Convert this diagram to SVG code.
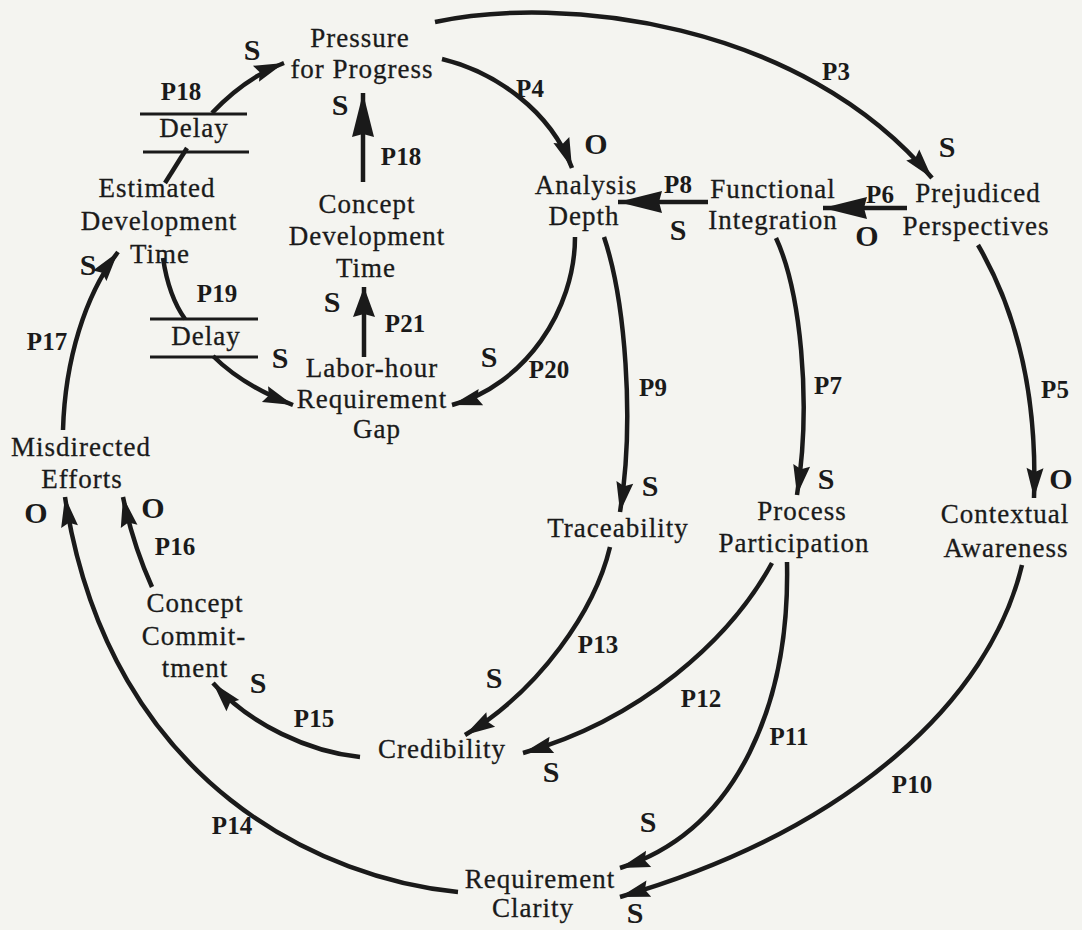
<svg xmlns="http://www.w3.org/2000/svg" width="1082" height="930" viewBox="0 0 1082 930">
<defs>
<style>
.n{font-family:"Liberation Serif","DejaVu Serif",serif;font-size:27px;letter-spacing:1px;fill:#1a1a1a;stroke:#1a1a1a;stroke-width:0.3;text-anchor:middle}
.p{font-family:"Liberation Serif","DejaVu Serif",serif;font-size:25px;font-weight:bold;fill:#1a1a1a;text-anchor:middle}
.s{font-family:"Liberation Serif","DejaVu Serif",serif;font-size:30px;font-weight:bold;fill:#1a1a1a;text-anchor:middle}
.c{fill:none;stroke:#1a1a1a;stroke-width:4.5}
.d{fill:none;stroke:#1a1a1a;stroke-width:3}
.a{marker-end:url(#a)}
.b{marker-end:url(#b)}
.m{marker-end:url(#m)}
</style>
<marker id="a" viewBox="-32 -10 34 20" refX="0" refY="0" markerWidth="34" markerHeight="20" markerUnits="userSpaceOnUse" orient="auto"><path d="M0,0 L-30,-8.5 L-26,0 L-30,8.5 Z" fill="#1a1a1a"/></marker>
<marker id="b" viewBox="-46 -12 48 24" refX="0" refY="0" markerWidth="48" markerHeight="24" markerUnits="userSpaceOnUse" orient="auto"><path d="M0,0 L-44,-11 L-41,0 L-44,11 Z" fill="#1a1a1a"/></marker>
<marker id="m" viewBox="-32 -12 34 24" refX="0" refY="0" markerWidth="34" markerHeight="24" markerUnits="userSpaceOnUse" orient="auto"><path d="M0,0 L-30,-11 L-27,0 L-30,11 Z" fill="#1a1a1a"/></marker>
</defs>
<rect width="1082" height="930" fill="#f4f4f0"/>
<g id="connectors">
<path class="c a" d="M435,22 C560,-5 800,20 932,178"/>
<path class="c a" d="M442,59 C495,72 550,110 572,168"/>
<path class="c b" d="M907,208 L823,208"/>
<path class="c b" d="M708,202 L618,202"/>
<path class="c b" d="M363,182 L363,93"/>
<path class="c m" d="M364,357 L364,287"/>
<path class="c" d="M165,183 L187,148"/>
<path class="c a" d="M212,113 C228,96 250,76 284,63"/>
<path class="d" d="M140,114 H247 M143,152 H249 M150,319 H258 M150,357 H258"/>
<path class="c" d="M163,258 C167,285 175,305 185,319"/>
<path class="c a" d="M213,356 C235,378 262,393 293,405"/>
<path class="c a" d="M575,237 C575,310 525,385 452,405"/>
<path class="c a" d="M604,237 C625,300 635,420 620,512"/>
<path class="c a" d="M776,238 C800,290 812,400 797,495"/>
<path class="c a" d="M978,245 C1010,300 1038,380 1034,498"/>
<path class="c a" d="M610,547 C595,610 540,690 465,735"/>
<path class="c a" d="M772,563 C730,640 640,720 523,753"/>
<path class="c a" d="M787,562 C790,700 740,830 620,868"/>
<path class="c a" d="M1022,565 C990,700 850,830 620,897"/>
<path class="c a" d="M458,892 C330,880 110,790 65,497"/>
<path class="c a" d="M360,757 C310,752 250,725 213,683"/>
<path class="c a" d="M152,587 Q133,545 123,497"/>
<path class="c a" d="M63,430 C65,360 85,295 118,252"/>
</g>
<g id="labels">
<text class="p" x="836" y="80">P3</text><text class="s" x="947" y="157">S</text>
<text class="p" x="530" y="97">P4</text><text class="s" x="596" y="154">O</text>
<text class="p" x="678" y="193">P8</text><text class="s" x="678" y="240">S</text>
<text class="p" x="880" y="203">P6</text><text class="s" x="867" y="246">O</text>
<text class="p" x="181" y="100">P18</text><text class="n" x="194" y="137">Delay</text>
<text class="s" x="252" y="60">S</text>
<text class="s" x="340" y="115">S</text><text class="p" x="401" y="165">P18</text>
<text class="s" x="88" y="275">S</text><text class="p" x="47" y="350">P17</text>
<text class="p" x="217" y="302">P19</text><text class="n" x="206" y="345">Delay</text>
<text class="s" x="280" y="368">S</text>
<text class="s" x="332" y="312">S</text><text class="p" x="405" y="332">P21</text>
<text class="s" x="489" y="367">S</text><text class="p" x="549" y="378">P20</text>
<text class="p" x="653" y="396">P9</text><text class="s" x="650" y="496">S</text>
<text class="p" x="828" y="394">P7</text><text class="s" x="826" y="489">S</text>
<text class="p" x="1055" y="398">P5</text><text class="s" x="1061" y="489">O</text>
<text class="s" x="36" y="523">O</text><text class="s" x="153" y="518">O</text>
<text class="p" x="175" y="555">P16</text>
<text class="s" x="258" y="693">S</text><text class="p" x="314" y="727">P15</text>
<text class="p" x="598" y="653">P13</text><text class="s" x="494" y="688">S</text>
<text class="p" x="701" y="707">P12</text><text class="s" x="551" y="782">S</text>
<text class="p" x="789" y="745">P11</text><text class="s" x="648" y="832">S</text>
<text class="p" x="912" y="793">P10</text><text class="s" x="635" y="923">S</text>
<text class="p" x="232" y="834">P14</text>
</g>
<g id="pressure"><text class="n" x="360" y="47">Pressure</text><text class="n" x="362" y="78">for Progress</text></g>
<g id="analysis"><text class="n" x="586" y="194">Analysis</text><text class="n" x="584" y="225">Depth</text></g>
<g id="functional"><text class="n" x="773" y="198">Functional</text><text class="n" x="773" y="229">Integration</text></g>
<g id="prejudiced"><text class="n" x="978" y="202">Prejudiced</text><text class="n" x="976" y="235">Perspectives</text></g>
<g id="estimated"><text class="n" x="157" y="197">Estimated</text><text class="n" x="159" y="230">Development</text><text class="n" x="160" y="263">Time</text></g>
<g id="conceptdev"><text class="n" x="367" y="213">Concept</text><text class="n" x="367" y="245">Development</text><text class="n" x="366" y="277">Time</text></g>
<g id="laborhour"><text class="n" x="372" y="377">Labor-hour</text><text class="n" x="372" y="408">Requirement</text><text class="n" x="377" y="438">Gap</text></g>
<g id="misdirected"><text class="n" x="81" y="456">Misdirected</text><text class="n" x="82" y="488">Efforts</text></g>
<g id="commitment"><text class="n" x="195" y="612">Concept</text><text class="n" x="194" y="645">Commit-</text><text class="n" x="195" y="677">tment</text></g>
<g id="credibility"><text class="n" x="442" y="758">Credibility</text></g>
<g id="traceability"><text class="n" x="618" y="537">Traceability</text></g>
<g id="participation"><text class="n" x="802" y="520">Process</text><text class="n" x="794" y="552">Participation</text></g>
<g id="contextual"><text class="n" x="1005" y="523">Contextual</text><text class="n" x="1006" y="557">Awareness</text></g>
<g id="clarity"><text class="n" x="540" y="888">Requirement</text><text class="n" x="533" y="917">Clarity</text></g>
</svg>
